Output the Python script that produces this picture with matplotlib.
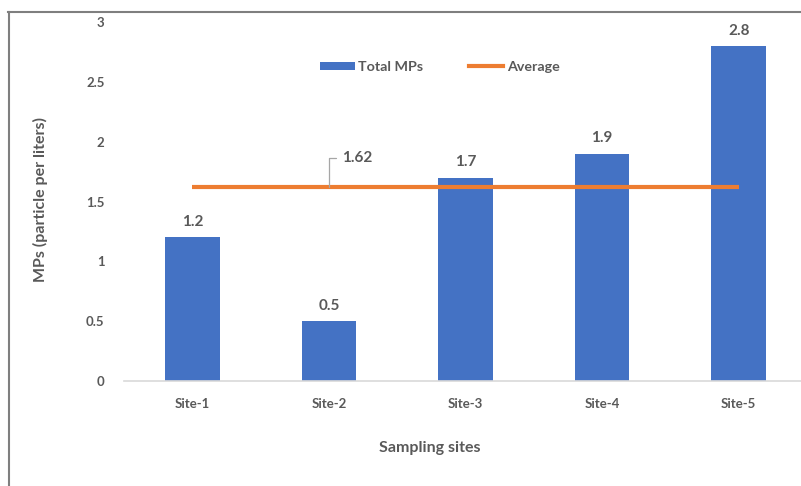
import matplotlib
matplotlib.use("Agg")
import matplotlib.pyplot as plt
from matplotlib.lines import Line2D
from matplotlib.patches import Patch

sites = ["Site-1", "Site-2", "Site-3", "Site-4", "Site-5"]
total_mps = [1.2, 0.5, 1.7, 1.9, 2.8]
average = 1.62
y_ticks = [0, 0.5, 1, 1.5, 2, 2.5, 3]
y_tick_labels = ["0", "0.5", "1", "1.5", "2", "2.5", "3"]

BLUE = "#4472C4"
ORANGE = "#ED7D31"
TEXT = "#595959"
FONT = ["Lato", "DejaVu Sans"]

W, H = 801, 486
fig = plt.figure(figsize=(W / 100, H / 100), dpi=100)
fig.patch.set_facecolor("white")

# plot area in pixel terms
left_px, right_px, top_px, bottom_px = 124, 807, 22, 381
ax = fig.add_axes([left_px / W, 1 - bottom_px / H,
                   (right_px - left_px) / W, (bottom_px - top_px) / H])
ax.set_facecolor("white")

x = list(range(len(sites)))
bars = ax.bar(x, total_mps, width=0.4, color=BLUE, zorder=2)
ax.plot(x, [average] * len(x), color=ORANGE, lw=3, zorder=3,
        solid_capstyle="butt")

for xi, v in zip(x, total_mps):
    ax.annotate(f"{v:g}", (xi, v), xytext=(0, 6), textcoords="offset points",
                ha="center", va="bottom", fontsize=11, fontweight="bold",
                color=TEXT, family=FONT)

# average value callout with leader line
ax.annotate(f"{average:g}", xy=(1, average), xytext=(9.4, 20.9),
            textcoords="offset points", ha="left", va="center",
            fontsize=11, fontweight="bold", color=TEXT, family=FONT,
            arrowprops=dict(arrowstyle="-", color="#A6A6A6", lw=0.9,
                            shrinkA=2, shrinkB=0, relpos=(0, 0.5),
                            connectionstyle="angle,angleA=0,angleB=90,rad=0"),
            zorder=4)

ax.set_xlim(-0.5, 4.5)
ax.set_ylim(0, 3)
ax.set_xticks(x)
ax.set_xticklabels(sites)
ax.set_yticks(y_ticks)
ax.set_yticklabels(y_tick_labels)
ax.tick_params(axis="both", length=0, labelsize=9.5, colors=TEXT)
ax.tick_params(axis="x", pad=12)
ax.tick_params(axis="y", pad=14)
for lab in ax.get_xticklabels() + ax.get_yticklabels():
    lab.set_fontweight("bold")
    lab.set_family(FONT)

for s in ["top", "right", "left"]:
    ax.spines[s].set_visible(False)
ax.spines["bottom"].set_color("#D9D9D9")
ax.spines["bottom"].set_linewidth(1.2)

fig.text(430 / W, 1 - 448 / H, "Sampling sites", ha="center", va="center",
         fontsize=11.5, fontweight="bold", color=TEXT, family=FONT)
fig.text(40 / W, 1 - 199 / H, "MPs (particle per liters)", ha="center",
         va="center", rotation=90, fontsize=11.5, fontweight="bold",
         color=TEXT, family=FONT)

handles = [Patch(facecolor=BLUE), Line2D([0], [0], color=ORANGE, lw=3)]
leg = fig.legend(handles, ["Total MPs", "Average"], loc="center",
                 bbox_to_anchor=(440 / W, 1 - 67 / H), ncol=2, frameon=False,
                 handlelength=2.4, handleheight=0.55, columnspacing=3.2,
                 handletextpad=0.25,
                 prop=dict(family=FONT, weight="bold", size=10.3))
for t in leg.get_texts():
    t.set_color(TEXT)

# chart frame (left and top edges)
fig.add_artist(Line2D([8.5 / W, 8.5 / W], [0, 1 - 12 / H],
                      transform=fig.transFigure, color="#7F7F7F", lw=1.5))
fig.add_artist(Line2D([8 / W, 1], [1 - 12.5 / H, 1 - 12.5 / H],
                      transform=fig.transFigure, color="#7F7F7F", lw=1.5))

fig.savefig("out.png", dpi=100, facecolor="white")
